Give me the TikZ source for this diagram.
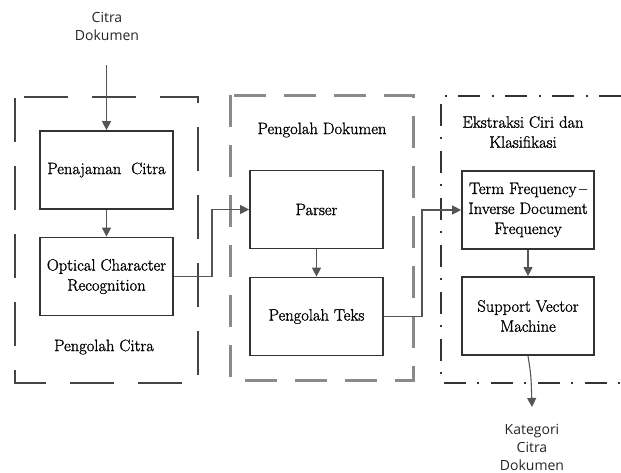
\documentclass[tikz,border=0pt]{standalone}
\usepackage{fontspec}
\newfontfamily\boxserif{Latin Modern Roman}[Ligatures=TeX, FakeBold=1.2]
\newfontfamily\labelsans{Open Sans}
\usetikzlibrary{arrows.meta}
\definecolor{boxline}{HTML}{333333}
\definecolor{conn}{HTML}{555555}
\definecolor{frameA}{HTML}{454545}
\definecolor{frameB}{HTML}{8A8A8A}
\tikzset{
  procbox/.style={draw=boxline, line width=1.7pt, minimum width=133pt, minimum height=78pt,
    align=center, inner sep=0pt, font=\boxserif\fontsize{16.5}{20}\selectfont, text=black},
  serlabel/.style={align=center, inner sep=0pt, font=\boxserif\fontsize{16.5}{20}\selectfont, text=black},
  sanslabel/.style={align=center, inner sep=0pt, font=\labelsans\fontsize{14}{18}\selectfont, text=black!85},
  conline/.style={draw=conn, line width=1.1pt},
  arr/.style={conline, -{Triangle[length=9pt,width=9pt]}},
  frameleft/.style={draw=frameA, line width=2pt, dash pattern=on 44pt off 24pt},
  framemid/.style={draw=frameB, line width=3pt, dash pattern=on 32pt off 18pt},
  frameright/.style={draw=boxline, line width=2pt, dash pattern=on 22pt off 11pt on 2pt off 12pt}
}
\begin{document}
\begin{tikzpicture}[x=1pt,y=-1pt]
\useasboundingbox (0,0) rectangle (621,472);
% frames
\draw[frameleft] (15,98) -- (15,383) -- (198,383) -- (198,97) -- (15,97);
\draw[framemid] (230,95) -- (230,380) -- (413,380) -- (413,95) -- cycle;
\draw[frameright] (621,96) -- (441,96) -- (441,383) -- (621,383);
% nodes
\node[sanslabel] (in) at (107,26) {Citra\\Dokumen};
\node[procbox] (pen) at (106.5,170) {Penajaman\ \ Citra};
\node[procbox] (ocr) at (106.5,276.5) {Optical Character\\Recognition};
\node[serlabel] (lc) at (104,347) {Pengolah Citra};
\node[serlabel] (ld) at (322,130) {Pengolah Dokumen};
\node[procbox] (par) at (316.5,209.5) {Parser};
\node[procbox] (teks) at (316.5,316.5) {Pengolah Teks};
\node[serlabel] (le) at (523,132) {Ekstraksi Ciri dan\\Klasifikasi};
\node[procbox, minimum width=132pt] (tf) at (528,210) {Term Frequency\,--\\Inverse Document\\Frequency};
\node[procbox, minimum width=132pt] (svm) at (528,316) {Support Vector\\Machine};
\node[sanslabel] (out) at (532,447) {Kategori\\Citra\\Dokumen};
\coordinate (inpt) at (106.5,65);
\coordinate (outpt) at (532,407);
% connectors
\draw[arr] (inpt) -- (pen.north);
\draw[arr] (pen.south) -- (ocr.north);
\draw[arr] (ocr.east) -- (212,276.5) |- (par.west);
\draw[arr] (par.south) -- (teks.north);
\draw[arr] (teks.east) -- (422,316.5) |- (tf.west);
\draw[arr] (tf.south) -- (svm.north);
\draw[arr] (svm.south) .. controls (531,375) .. (outpt);
\end{tikzpicture}
\end{document}
